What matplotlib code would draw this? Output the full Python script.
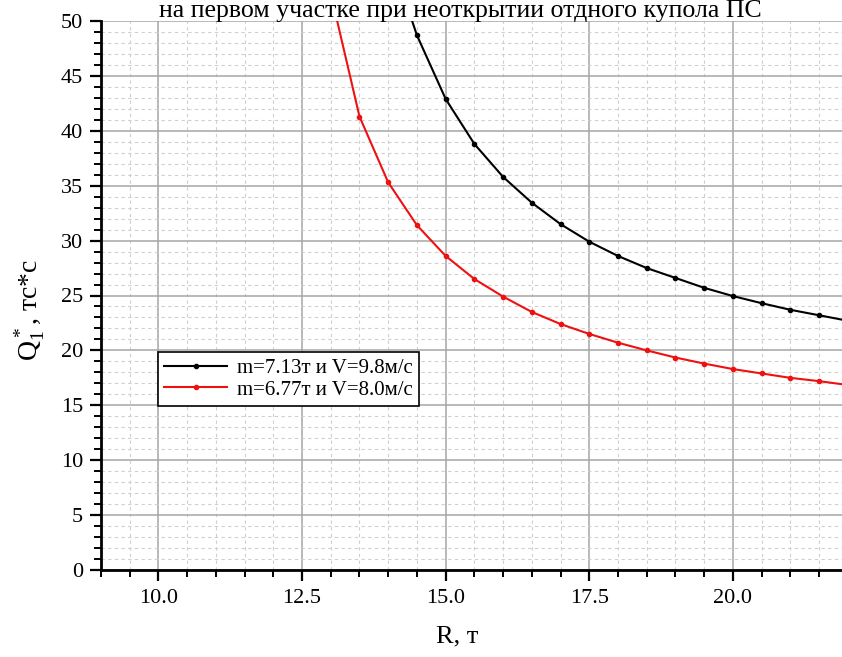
import matplotlib
matplotlib.use("Agg")
import matplotlib.pyplot as plt
from matplotlib.ticker import MultipleLocator, FormatStrFormatter

plt.rcParams['font.family'] = ['Liberation Serif', 'DejaVu Serif']
plt.rcParams['mathtext.fontset'] = 'custom'
plt.rcParams['mathtext.rm'] = 'Liberation Serif'
plt.rcParams['mathtext.it'] = 'Liberation Serif:italic'

title = "на первом участке при неоткрытии отдного купола ПС"
xlabel = "R, т"
ylabel = r"$\mathrm{Q}_1^*$, тс*с"

label_black = "m=7.13т и V=9.8м/с"
label_red = "m=6.77т и V=8.0м/с"

x_black = [14.0, 14.5, 15.0, 15.5, 16.0, 16.5, 17.0, 17.5, 18.0, 18.5, 19.0, 19.5, 20.0, 20.5, 21.0, 21.5, 22.0]
y_black = [56.5, 48.7, 42.9, 38.8, 35.8, 33.45, 31.5, 29.9, 28.6, 27.5, 26.6, 25.7, 24.95, 24.3, 23.7, 23.2, 22.7]

x_red = [13.0, 13.5, 14.0, 14.5, 15.0, 15.5, 16.0, 16.5, 17.0, 17.5, 18.0, 18.5, 19.0, 19.5, 20.0, 20.5, 21.0, 21.5, 22.0]
y_red = [52.5, 41.3, 35.3, 31.4, 28.6, 26.5, 24.9, 23.5, 22.4, 21.5, 20.7, 20.0, 19.35, 18.8, 18.3, 17.9, 17.5, 17.2, 16.85]

W, H = 842, 657
fig = plt.figure(figsize=(W / 100, H / 100), dpi=100)
ax = fig.add_axes([101 / W, (H - 570) / H, (W - 101) / W, (570 - 21) / H])

ax.set_xlim(9, 21.9)
ax.set_ylim(0, 50)

ax.xaxis.set_major_locator(MultipleLocator(2.5))
ax.xaxis.set_minor_locator(MultipleLocator(0.5))
ax.xaxis.set_major_formatter(FormatStrFormatter('%.1f'))
ax.yaxis.set_major_locator(MultipleLocator(5))
ax.yaxis.set_minor_locator(MultipleLocator(1))

ax.grid(which='major', color='#a6a6a6', linewidth=1.1, linestyle='-')
ax.grid(which='minor', color='#cfcfcf', linewidth=0.8, linestyle=(0, (3, 3)))
ax.set_axisbelow(True)

ax.plot(x_black, y_black, color='black', linewidth=1.5, marker='o', markersize=3,
        label=label_black)
ax.plot(x_red, y_red, color='#ee1111', linewidth=1.5, marker='o', markersize=3,
        label=label_red)

for s in ['top', 'right']:
    ax.spines[s].set_visible(False)
for s in ['left', 'bottom']:
    ax.spines[s].set_linewidth(2.0)

ax.tick_params(which='major', direction='out', length=8, width=1.6, labelsize=16)
ax.tick_params(which='minor', direction='out', length=5, width=1.4)
ax.xaxis.set_tick_params(which='major', pad=6)
ax.yaxis.set_tick_params(which='major', pad=5)

leg = ax.legend(loc='upper left', bbox_to_anchor=((158 - 101) / (W - 101), (570 - 352) / (570 - 21)),
                fontsize=15, frameon=True, fancybox=False, edgecolor='black',
                framealpha=1, borderpad=0.3, handlelength=3.0, labelspacing=0.1,
                handletextpad=0.5, borderaxespad=0)
leg.get_frame().set_linewidth(1.2)

fig.text(460 / W, (H - 17) / H, title, ha='center', va='baseline', fontsize=18.6)
fig.text(457 / W, (H - 636) / H, xlabel, ha='center', va='center', fontsize=19)
fig.text(30 / W, (H - 310) / H, ylabel, ha='center', va='center', rotation=90, fontsize=20)

fig.savefig('out.png', dpi=100)
